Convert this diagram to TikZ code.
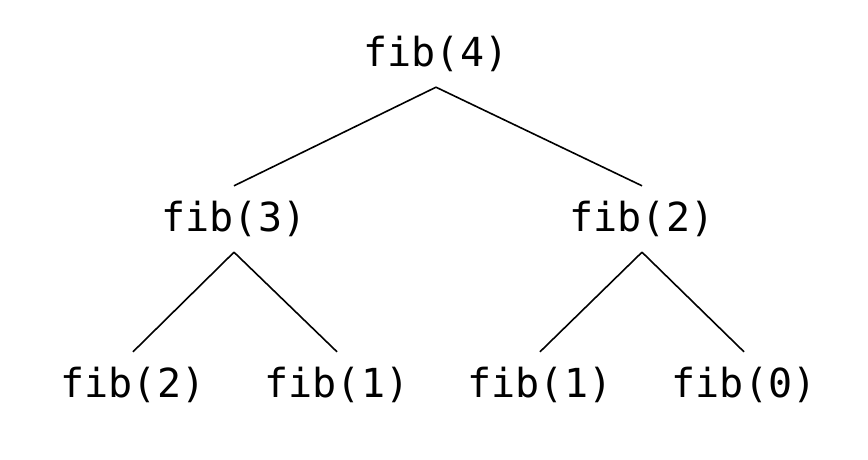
\documentclass[tikz,border=0pt]{standalone}
\usepackage{fontspec}
\setmonofont{DejaVu Sans Mono}
\begin{document}
\begin{tikzpicture}[x=1pt,y=-1pt,
  fn/.style={font=\ttfamily\fontsize{40}{40}\selectfont, inner sep=0pt, minimum height=66pt, anchor=center},
  edge/.style={line width=1.6pt}]
\useasboundingbox[fill=white] (0,0) rectangle (868,460);
\node[fn] (n4) at (436,54) {fib(4)};
\node[fn] (n3) at (234,219) {fib(3)};
\node[fn] (n2) at (642,219) {fib(2)};
\node[fn] (a) at (133,385) {fib(2)};
\node[fn] (b) at (337,385) {fib(1)};
\node[fn] (c) at (540,385) {fib(1)};
\node[fn] (d) at (744,385) {fib(0)};
\draw[edge] (n4.south) -- (n3.north);
\draw[edge] (n4.south) -- (n2.north);
\draw[edge] (n3.south) -- (a.north);
\draw[edge] (n3.south) -- (b.north);
\draw[edge] (n2.south) -- (c.north);
\draw[edge] (n2.south) -- (d.north);
\end{tikzpicture}
\end{document}
